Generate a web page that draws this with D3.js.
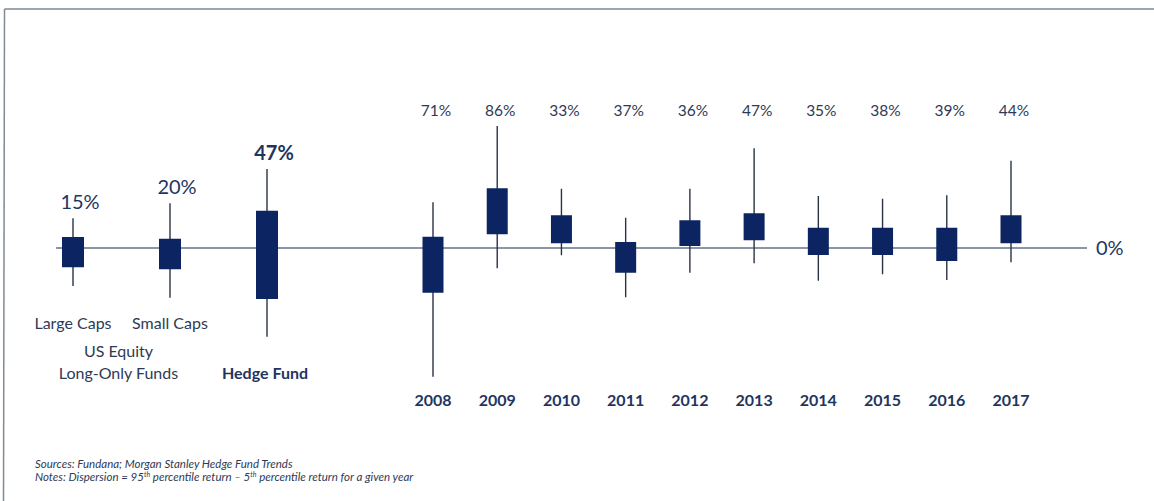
<!DOCTYPE html>
<html>
<head>
<meta charset="utf-8">
<script src="https://cdn.jsdelivr.net/npm/d3@7"></script>
<style>
  html, body { margin: 0; padding: 0; background: #fff; }
  svg { display: block; }
</style>
</head>
<body>
<svg id="chart" width="1154" height="501"></svg>
<script>
// ---- Data ----
const fundCategories = ["Large Caps", "Small Caps", "Hedge Fund"];
const fundDispersion = ["15%", "20%", "47%"];
const fundHigh = [11.9, 17.9, 31.6];
const fundQ3   = [4.4, 3.7, 14.9];
const fundQ1   = [-7.7, -8.5, -20.4];
const fundLow  = [-15.2, -19.9, -35.5];

const years = ["2008","2009","2010","2011","2012","2013","2014","2015","2016","2017"];
const yearDispersion = ["71%","86%","33%","37%","36%","47%","35%","38%","39%","44%"];
const yearHigh = [18.3, 48.8, 23.7, 12.1, 23.7, 39.9, 20.8, 19.7, 21.1, 34.9];
const yearQ3   = [4.5, 23.9, 13.1, 2.4, 11.1, 13.9, 8.1, 8.1, 8.1, 13.1];
const yearQ1   = [-17.9, 5.5, 1.9, -9.9, 0.8, 3.1, -2.8, -2.8, -5.2, 1.9];
const yearLow  = [-51.5, -8.1, -2.9, -19.7, -9.9, -6.1, -13.1, -10.5, -12.8, -5.7];

const zeroLabel = "0%";
const groupLabelLines = ["US Equity", "Long-Only Funds"];
const footSources = "Sources: Fundana; Morgan Stanley Hedge Fund Trends";

// ---- Styles ----
const NAVY = "#0c2461";
const TEXT = "#1f3560";
const GREY_TEXT = "#2e3a55";
const WHISK = "#2a3344";
const ZERO = "#8a96a6";
const FONT = "Lato, 'Open Sans', sans-serif";

const svg = d3.select("#chart");

// frame
svg.append("line").attr("x1", 4.5).attr("x2", 1154).attr("y1", 9).attr("y2", 9)
  .attr("stroke", "#7f8a93").attr("stroke-width", 1.5);
svg.append("line").attr("x1", 4.5).attr("x2", 3.5).attr("y1", 9).attr("y2", 501)
  .attr("stroke", "#7f8a93").attr("stroke-width", 1.5);

// scales
const y = d3.scaleLinear().domain([-60, 60]).range([398, 98]);
const xFund = d3.scalePoint().domain(fundCategories).range([73, 267]);
const xYear = d3.scalePoint().domain(years).range([433, 1011]);

const funds = fundCategories.map((c, i) => ({
  key: c, x: xFund(c), hi: fundHigh[i], q3: fundQ3[i], q1: fundQ1[i], lo: fundLow[i],
  disp: fundDispersion[i]
}));
const yrs = years.map((c, i) => ({
  key: c, x: xYear(c), hi: yearHigh[i], q3: yearQ3[i], q1: yearQ1[i], lo: yearLow[i],
  disp: yearDispersion[i]
}));

// zero line
svg.append("line")
  .attr("x1", 56).attr("x2", 1087)
  .attr("y1", y(0)).attr("y2", y(0))
  .attr("stroke", ZERO).attr("stroke-width", 2);

svg.append("text").text(zeroLabel)
  .attr("x", 1096).attr("y", y(0) + 7)
  .attr("font-family", FONT).attr("font-size", 20).attr("fill", TEXT);

function drawCandles(data, cls, boxW) {
  const g = svg.append("g").attr("class", cls);
  g.selectAll("line.wh").data(data).join("line")
    .attr("class", "wh")
    .attr("x1", d => d.x).attr("x2", d => d.x)
    .attr("y1", d => y(d.hi)).attr("y2", d => y(d.lo))
    .attr("stroke", WHISK).attr("stroke-width", 1.4);
  g.selectAll("rect").data(data).join("rect")
    .attr("x", d => d.x - boxW / 2)
    .attr("width", boxW)
    .attr("y", d => y(d.q3))
    .attr("height", d => y(d.q1) - y(d.q3))
    .attr("fill", NAVY);
}
drawCandles(funds, "funds", 22);
drawCandles(yrs, "years", 21);

// fund dispersion labels
svg.append("g").selectAll("text").data(funds).join("text")
  .text(d => d.disp)
  .attr("x", d => d.x + 7)
  .attr("y", d => y(d.hi) - 9)
  .attr("text-anchor", "middle")
  .attr("font-family", FONT)
  .attr("font-size", 20)
  .attr("font-weight", (d, i) => i === 2 ? 700 : 400)
  .attr("fill", TEXT);

// year dispersion labels
svg.append("g").selectAll("text").data(yrs).join("text")
  .text(d => d.disp)
  .attr("x", d => d.x + 3)
  .attr("y", 116)
  .attr("text-anchor", "middle")
  .attr("font-family", FONT)
  .attr("font-size", 15.5)
  .attr("fill", GREY_TEXT);

// year labels
svg.append("g").selectAll("text").data(yrs).join("text")
  .text(d => d.key)
  .attr("x", d => d.x)
  .attr("y", 406)
  .attr("text-anchor", "middle")
  .attr("font-family", FONT)
  .attr("font-size", 16)
  .attr("font-weight", 700)
  .attr("fill", TEXT);

// fund category labels
svg.append("g").selectAll("text").data(funds.slice(0, 2)).join("text")
  .text(d => d.key)
  .attr("x", d => d.x)
  .attr("y", 329)
  .attr("text-anchor", "middle")
  .attr("font-family", FONT)
  .attr("font-size", 16)
  .attr("fill", GREY_TEXT);

const groupX = (xFund(fundCategories[0]) + xFund(fundCategories[1])) / 2 - 3;
svg.append("g").selectAll("text").data(groupLabelLines).join("text")
  .text(d => d)
  .attr("x", groupX)
  .attr("y", (d, i) => 357 + i * 22)
  .attr("text-anchor", "middle")
  .attr("font-family", FONT)
  .attr("font-size", 16)
  .attr("fill", GREY_TEXT);

svg.append("text").text(fundCategories[2])
  .attr("x", xFund(fundCategories[2]) - 2)
  .attr("y", 379)
  .attr("text-anchor", "middle")
  .attr("font-family", FONT)
  .attr("font-size", 16)
  .attr("font-weight", 700)
  .attr("fill", TEXT);

// footnotes
svg.append("text").text(footSources)
  .attr("x", 35).attr("y", 468)
  .attr("font-family", FONT).attr("font-size", 11.5).attr("font-style", "italic")
  .attr("fill", GREY_TEXT);

const notes = svg.append("text")
  .attr("x", 35).attr("y", 481)
  .attr("font-family", FONT).attr("font-size", 11.5).attr("font-style", "italic")
  .attr("fill", GREY_TEXT);
notes.append("tspan").text("Notes: Dispersion = 95");
notes.append("tspan").text("th").attr("font-size", 7).attr("dy", -4);
notes.append("tspan").text(" percentile return \u2013 5").attr("dy", 4);
notes.append("tspan").text("th").attr("font-size", 7).attr("dy", -4);
notes.append("tspan").text(" percentile return for a given year").attr("dy", 4);
</script>
</body>
</html>
